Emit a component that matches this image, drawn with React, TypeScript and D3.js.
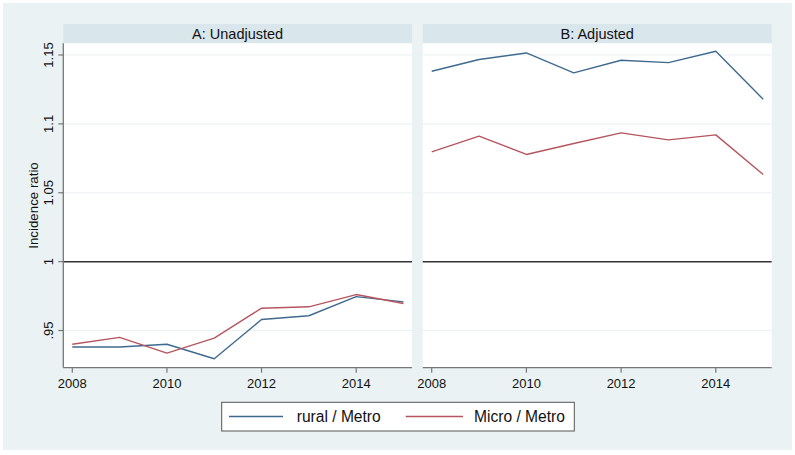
import React from "react";
import * as d3 from "d3";

const years = [2008, 2009, 2010, 2011, 2012, 2013, 2014, 2015];
const unadjRural = [0.938, 0.938, 0.94, 0.9295, 0.958, 0.9607, 0.9746, 0.9708];
const unadjMicro = [0.94, 0.945, 0.9336, 0.9445, 0.9662, 0.9672, 0.9761, 0.9696];
const adjRural = [1.1382, 1.1467, 1.1515, 1.137, 1.1462, 1.1445, 1.1527, 1.1179];
const adjMicro = [1.0797, 1.0911, 1.0778, 1.0858, 1.0935, 1.0884, 1.092, 1.0633];
const xTicks = [2008, 2010, 2012, 2014];
const yTicks = [0.95, 1, 1.05, 1.1, 1.15];
const yTickLabels = [".95", "1", "1.05", "1.1", "1.15"];
const panelTitles = ["A: Unadjusted", "B: Adjusted"];
const seriesNames = ["rural / Metro", "Micro / Metro"];

const BLUE = "#3F6A8F";
const RED = "#B5565F";
const FONT = "'Liberation Sans', Arial, sans-serif";

export default function App() {
  const W = 795, H = 455;
  const top = 43.3, bottom = 367.7;
  const panels = [
    { x0: 63.3, x1: 412, data: [unadjRural, unadjMicro] },
    { x0: 422.7, x1: 771.7, data: [adjRural, adjMicro] },
  ];
  const y = d3.scaleLinear().domain([0.923, 1.1585]).range([bottom, top]);
  const colors = [BLUE, RED];

  return (
    <svg width={W} height={H} style={{ position: "absolute", left: 0, top: 0 }}>
      <rect x={0} y={0} width={W} height={H} fill="#ffffff" />
      <rect x={3} y={3} width={789} height={447} fill="#EAF2F3" />
      {panels.map((p, pi) => {
        const x = d3.scaleLinear().domain([2007.81, 2015.18]).range([p.x0, p.x1]);
        const line = d3
          .line<number>()
          .x((_, i) => x(years[i]))
          .y((d) => y(d));
        return (
          <g key={pi}>
            <rect x={p.x0} y={24} width={p.x1 - p.x0} height={top - 24} fill="#D9E6EB" />
            <text
              x={(p.x0 + p.x1) / 2}
              y={(24 + top) / 2}
              dy="0.36em"
              textAnchor="middle"
              fontFamily={FONT}
              fontSize={14.5}
              fill="#111"
            >
              {panelTitles[pi]}
            </text>
            <rect x={p.x0} y={top} width={p.x1 - p.x0} height={bottom - top} fill="#ffffff" />
            {yTicks
              .filter((t) => t !== 1)
              .map((t) => (
                <line key={t} x1={p.x0} x2={p.x1} y1={y(t)} y2={y(t)} stroke="#EAF2F3" strokeWidth={1.2} />
              ))}
            <line x1={p.x0} x2={p.x1} y1={y(1)} y2={y(1)} stroke="#333" strokeWidth={1.5} />
            {p.data.map((s, si) => (
              <path key={si} d={line(s) || ""} fill="none" stroke={colors[si]} strokeWidth={1.4} strokeLinejoin="round" />
            ))}
            <line x1={p.x0} x2={p.x1} y1={bottom} y2={bottom} stroke="#777" strokeWidth={1.3} />
            {xTicks.map((t) => (
              <g key={t}>
                <line x1={x(t)} x2={x(t)} y1={bottom} y2={bottom + 5} stroke="#777" strokeWidth={1.2} />
                <text
                  x={x(t)}
                  y={383}
                  dy="0.36em"
                  textAnchor="middle"
                  fontFamily={FONT}
                  fontSize={13}
                  fill="#111"
                >
                  {t}
                </text>
              </g>
            ))}
            {pi === 0 && (
              <g>
                <line x1={p.x0} x2={p.x0} y1={top} y2={bottom} stroke="#777" strokeWidth={1.3} />
                {yTicks.map((t, i) => (
                  <g key={t}>
                    <line x1={p.x0 - 5} x2={p.x0} y1={y(t)} y2={y(t)} stroke="#777" strokeWidth={1.2} />
                    <text
                      transform={`translate(48,${y(t)}) rotate(-90)`}
                      dy="0.36em"
                      textAnchor="middle"
                      fontFamily={FONT}
                      fontSize={13}
                      fill="#111"
                    >
                      {yTickLabels[i]}
                    </text>
                  </g>
                ))}
                <text
                  transform={`translate(33,${(top + bottom) / 2}) rotate(-90)`}
                  dy="0.36em"
                  textAnchor="middle"
                  fontFamily={FONT}
                  fontSize={13.3}
                  fill="#111"
                >
                  Incidence ratio
                </text>
              </g>
            )}
          </g>
        );
      })}
      <g>
        <rect x={221.7} y={402.3} width={352.6} height={28.7} fill="#ffffff" stroke="#555" strokeWidth={1} />
        <line x1={229} x2={283} y1={416.5} y2={416.5} stroke={BLUE} strokeWidth={1.6} />
        <text x={296.7} y={416.5} dy="0.36em" fontFamily={FONT} fontSize={15.6} fill="#111">
          {seriesNames[0]}
        </text>
        <line x1={405.7} x2={463} y1={416.5} y2={416.5} stroke={RED} strokeWidth={1.6} />
        <text x={474} y={416.5} dy="0.36em" fontFamily={FONT} fontSize={15.6} fill="#111">
          {seriesNames[1]}
        </text>
      </g>
    </svg>
  );
}
